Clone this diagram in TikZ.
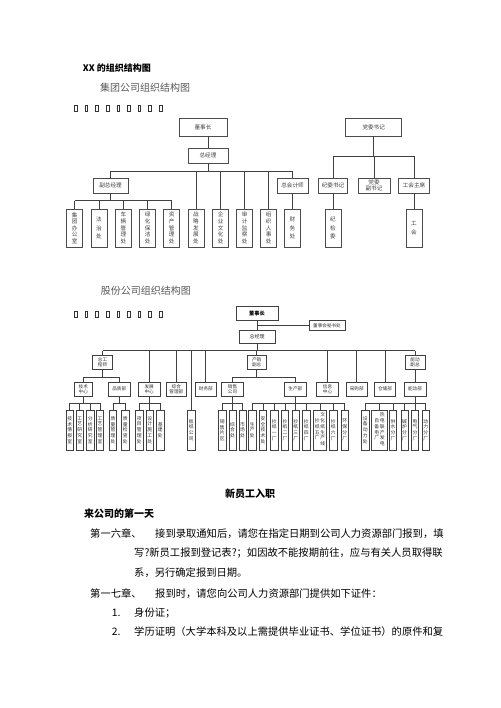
\documentclass[tikz,border=0pt]{standalone}
\usepackage{fontspec}
\setmainfont{Noto Sans CJK SC}
\newcommand\kids[2]{\foreach \n in {#2} {\draw[ln] (\n.north) -- (\n.north |- #1);}}
\newcommand\busdown[4]{\draw[ln] (#1.south) -- (#1.south |- #2);\draw[ln] (#3.north |- #2) -- (#4.north |- #2);}
\newcommand\vcol[1]{\begin{tabular}{@{}c@{}}#1\end{tabular}}
\begin{document}
\begin{tikzpicture}[x=1pt,y=-1pt,
  ln/.style={draw=black!75, line width=0.8pt},
  bx/.style={draw=black!70, line width=0.7pt, fill=white, inner sep=0pt, align=center, text=black!75, font=\fontsize{5.6}{6.6}\selectfont},
  vb1/.style={bx, minimum width=16pt, minimum height=38pt},
  bx2/.style={draw=black!75, line width=0.7pt, fill=white, inner sep=0pt, align=center, text=black!80, font=\fontsize{4.6}{5.4}\selectfont},
  vb2/.style={bx2, minimum width=7.3pt, minimum height=40pt, font=\fontsize{4.8}{5.8}\selectfont},
  bt/.style={anchor=west, inner sep=0pt, font=\fontsize{10.3}{12}\selectfont}]
\useasboundingbox (0,0) rectangle (500,708);
\fill[white] (0,0) rectangle (500,708);

% headings
\node[anchor=west, inner sep=0pt, font=\fontsize{9}{10}\selectfont\bfseries] (t1) at (82.7,67.7) {XX 的组织结构图};
\node[anchor=west, inner sep=0pt, font=\fontsize{10}{11}\selectfont, text=black!65] (t2) at (100,87.3) {集团公司组织结构图};
\node[anchor=west, inner sep=0pt, font=\fontsize{10}{11}\selectfont, text=black!65] (t3) at (100.7,291) {股份公司组织结构图};
\foreach \i in {0,...,8} {
  \draw[black!80, line width=0.6pt] ({75.7+10.6*\i-1.3},105.3) rectangle ++(2.6,6);
  \draw[black!80, line width=0.6pt] ({75.7+10.6*\i-1.3},311) rectangle ++(2.6,6);
}

% ---------------- chart 1 ----------------
\node[bx, minimum width=48pt, minimum height=18pt] (g0) at (203,127) {董事长};
\node[bx, minimum width=40pt, minimum height=15pt] (g1) at (208,155.5) {总经理};
\node[bx, minimum width=35pt, minimum height=15pt] (gf) at (110.5,185.5) {副总经理};
\node[bx, minimum width=31pt, minimum height=15pt] (gk) at (292.5,185.5) {总会计师};
\node[vb1] (g11) at (74.7,228) {集\\团\\办\\公\\室};
\node[vb1] (g12) at (99,228) {法\\[2pt]治\\[2pt]处};
\node[vb1] (g13) at (123.3,228) {车\\辆\\管\\理\\处};
\node[vb1] (g14) at (147.7,228) {绿\\化\\保\\洁\\处};
\node[vb1] (g15) at (171.7,228) {资\\产\\管\\理\\处};
\node[vb1] (g21) at (196,228) {战\\略\\发\\展\\处};
\node[vb1] (g22) at (220.7,228) {企\\业\\文\\化\\处};
\node[vb1] (g23) at (244.7,228) {审\\计\\监\\察\\处};
\node[vb1] (g24) at (268.7,228) {组\\织\\人\\事\\处};
\node[vb1] (g31) at (292.5,228) {财\\[2pt]务\\[2pt]处};

\coordinate (ya) at (0,171);
\coordinate (yb) at (0,200.7);
\draw[ln] (g1.north) -- (g1.north |- g0.south);
\busdown{g1}{ya}{gf}{gk}
\kids{ya}{gf,g21,g22,g23,g24,gk}
\busdown{gf}{yb}{g11}{g15}
\kids{yb}{g11,g12,g13,g14,g15}
\draw[ln] (gk.south) -- (g31.north);

\node[bx, minimum width=56pt, minimum height=18pt] (p0) at (373.7,127) {党委书记};
\node[bx, minimum width=29pt, minimum height=15pt] (p1) at (333,185.5) {纪委书记};
\node[bx, minimum width=32pt, minimum height=15pt] (p2) at (374,185.5) {党委\\副书记};
\node[bx, minimum width=31pt, minimum height=15pt] (p3) at (414,185.5) {工会主席};
\node[vb1] (p11) at (333,228) {纪\\[2pt]检\\[2pt]委};
\node[vb1] (p31) at (414,228) {工\\[2pt]会};
\coordinate (yp) at (0,156);
\busdown{p0}{yp}{p1}{p3}
\kids{yp}{p1,p2,p3}
\draw[ln] (p1.south) -- (p11.north);
\draw[ln] (p3.south) -- (p31.north);

% ---------------- chart 2 ----------------
\node[bx2, minimum width=42pt, minimum height=13.3pt, font=\fontsize{5.2}{6}\selectfont\bfseries, text=black] (s0) at (257,313.3) {董事长};
\node[bx2, minimum width=36pt, minimum height=10pt] (s0m) at (327,325.7) {董事会秘书处};
\node[bx2, minimum width=36pt, minimum height=13.3pt, font=\fontsize{5}{6}\selectfont] (s1) at (257,336.7) {总经理};
\draw[ln] (s0.south) -- (s1.north);
\draw[ln] (s0m.west) -- (s0m.west -| s0.south);

\node[bx2, minimum width=20pt, minimum height=13.3pt] (s2a) at (102.5,362.3) {总工\\程师};
\node[bx2, minimum width=19pt, minimum height=13.3pt] (s2b) at (256.7,362.3) {产销\\副总};
\node[bx2, minimum width=20pt, minimum height=13.3pt] (s2c) at (415,362.3) {能动\\副总};

\node[bx2, minimum width=18.7pt, minimum height=13.7pt] (r1) at (83.3,389.2) {技术\\中心};
\node[bx2, minimum width=21.7pt, minimum height=13.7pt] (r2) at (119.2,389.2) {品质部};
\node[bx2, minimum width=21.7pt, minimum height=13.7pt] (r3) at (149.2,389.2) {发展\\中心};
\node[bx2, minimum width=20.7pt, minimum height=13.7pt] (r4) at (176.3,389.2) {综合\\管理部};
\node[bx2, minimum width=21.7pt, minimum height=13.7pt] (r5) at (205.8,389.2) {财务部};
\node[bx2, minimum width=21.7pt, minimum height=13.7pt] (r6) at (232.5,389.2) {销售\\公司};
\node[bx2, minimum width=22.7pt, minimum height=13.7pt] (r7) at (295.3,389.2) {生产部};
\node[bx2, minimum width=21.7pt, minimum height=13.7pt] (r8) at (327.5,389.2) {信息\\中心};
\node[bx2, minimum width=21.3pt, minimum height=13.7pt] (r9) at (356.7,389.2) {采购部};
\node[bx2, minimum width=21.3pt, minimum height=13.7pt] (r10) at (385,389.2) {仓储部};
\node[bx2, minimum width=22pt, minimum height=13.7pt] (r11) at (415,389.2) {能动部};

\node[vb2, minimum width=7.7pt] (bz) at (191.2,430) {板\\纸\\公\\司};

% level 3
\node[vb2] (k1) at (69.7,430) {技\\术\\情\\报\\室};
\node[vb2] (k2) at (79.7,430) {工\\艺\\研\\究\\室};
\node[vb2] (k3) at (90.3,430) {分\\析\\研\\究\\室};
\node[vb2] (k4) at (100,430) {工\\艺\\管\\理\\室};
\node[vb2] (q1) at (113,430) {质\\量\\管\\理\\处};
\node[vb2] (q2) at (125.3,430) {质\\量\\检\\查\\处};
\node[vb2] (f1) at (139.3,430) {项\\目\\管\\理\\处};
\node[vb2] (f2) at (149.7,430) {设\\计\\施\\工\\处};
\node[vb2] (f3) at (160.3,430) {基\\建\\处};
\node[vb2] (x1) at (222.2,430) {销\\售\\片\\区};
\node[vb2] (x2) at (232.5,430) {综\\合\\处};
\node[vb2] (x3) at (242.5,430) {市\\场\\处};
\node[vb2] (c1) at (252.2,430) {生\\产\\处};
\node[vb2] (c2) at (263,430) {安\\全\\技\\术\\处};
\node[vb2] (c3) at (274.2,430) {抄\\纸\\一\\厂};
\node[vb2] (c4) at (285,430) {抄\\纸\\二\\厂};
\node[vb2] (c5) at (295.8,430) {抄\\纸\\三\\厂};
\node[vb2] (c6) at (306.3,430) {抄\\纸\\四\\厂};
\node[vb2, minimum width=13.3pt] (c7) at (320,430) {\vcol{抄\\纸\\五\\厂}\hspace{0.6pt}\vcol{文\\化\\纸\\生\\产\\线}};
\node[vb2] (c8) at (333.3,430) {抄\\纸\\六\\厂};
\node[vb2] (c9) at (344.7,430) {环\\保\\分\\厂};
\node[vb2] (n1) at (365.2,430) {设\\备\\动\\力\\处};
\node[vb2, minimum width=15.6pt] (n2) at (379.5,430) {\vcol{自\\备\\电\\厂}\hspace{0.6pt}\vcol{热\\电\\联\\产\\发\\电}};
\node[vb2] (n3) at (393,430) {供\\水\\分\\厂};
\node[vb2] (n4) at (404.5,430) {碱\\炉\\分\\厂};
\node[vb2] (n5) at (415,430) {电\\气\\分\\厂};
\node[vb2] (n6) at (425.8,430) {动\\力\\分\\厂};

\coordinate (ym) at (0,350.7);
\coordinate (y2) at (0,377.3);
\coordinate (y3) at (0,403.3);
\busdown{s1}{ym}{s2a}{s2c}
\kids{ym}{s2a,r3,r4,bz,r5,s2b,r8,r9,r10,s2c}
\busdown{s2a}{y2}{r1}{r2}
\kids{y2}{r1,r2}
\busdown{s2b}{y2}{r6}{r7}
\kids{y2}{r6,r7}
\draw[ln] (s2c.south) -- (r11.north);
\busdown{r1}{y3}{k1}{k4}
\kids{y3}{k1,k2,k3,k4}
\busdown{r2}{y3}{q1}{q2}
\kids{y3}{q1,q2}
\busdown{r3}{y3}{f1}{f3}
\kids{y3}{f1,f2,f3}
\busdown{r6}{y3}{x1}{x3}
\kids{y3}{x1,x2,x3}
\busdown{r7}{y3}{c1}{c9}
\kids{y3}{c1,c2,c3,c4,c5,c6,c7,c8,c9}
\busdown{r11}{y3}{n1}{n6}
\kids{y3}{n1,n2,n3,n4,n5,n6}

% ---------------- text ----------------
\node[anchor=center, inner sep=0pt, font=\fontsize{10}{12}\selectfont\bfseries] (h1) at (250,494) {新员工入职};
\node[anchor=west, inner sep=0pt, font=\fontsize{10}{12}\selectfont\bfseries] (h2) at (84,513.3) {来公司的第一天};
\node[bt] (l1a) at (90,533.3) {第一六章、};
\node[bt] (l1b) at (155,533.3) {接到录取通知后，请您在指定日期到公司人力资源部门报到，填};
\node[bt] (l2) at (134,552.7) {写?新员工报到登记表?；如因故不能按期前往，应与有关人员取得联};
\node[bt] (l3) at (134,572.7) {系，另行确定报到日期。};
\node[bt] (l4a) at (90,593.3) {第一七章、};
\node[bt] (l4b) at (155,593.3) {报到时，请您向公司人力资源部门提供如下证件：};
\node[bt] (l5a) at (111.7,612.7) {1.};
\node[bt] (l5b) at (134,612.7) {身份证；};
\node[bt] (l6a) at (111.7,631.7) {2.};
\node[bt] (l6b) at (134,631.7) {学历证明（大学本科及以上需提供毕业证书、学位证书）的原件和复};
\end{tikzpicture}
\end{document}
